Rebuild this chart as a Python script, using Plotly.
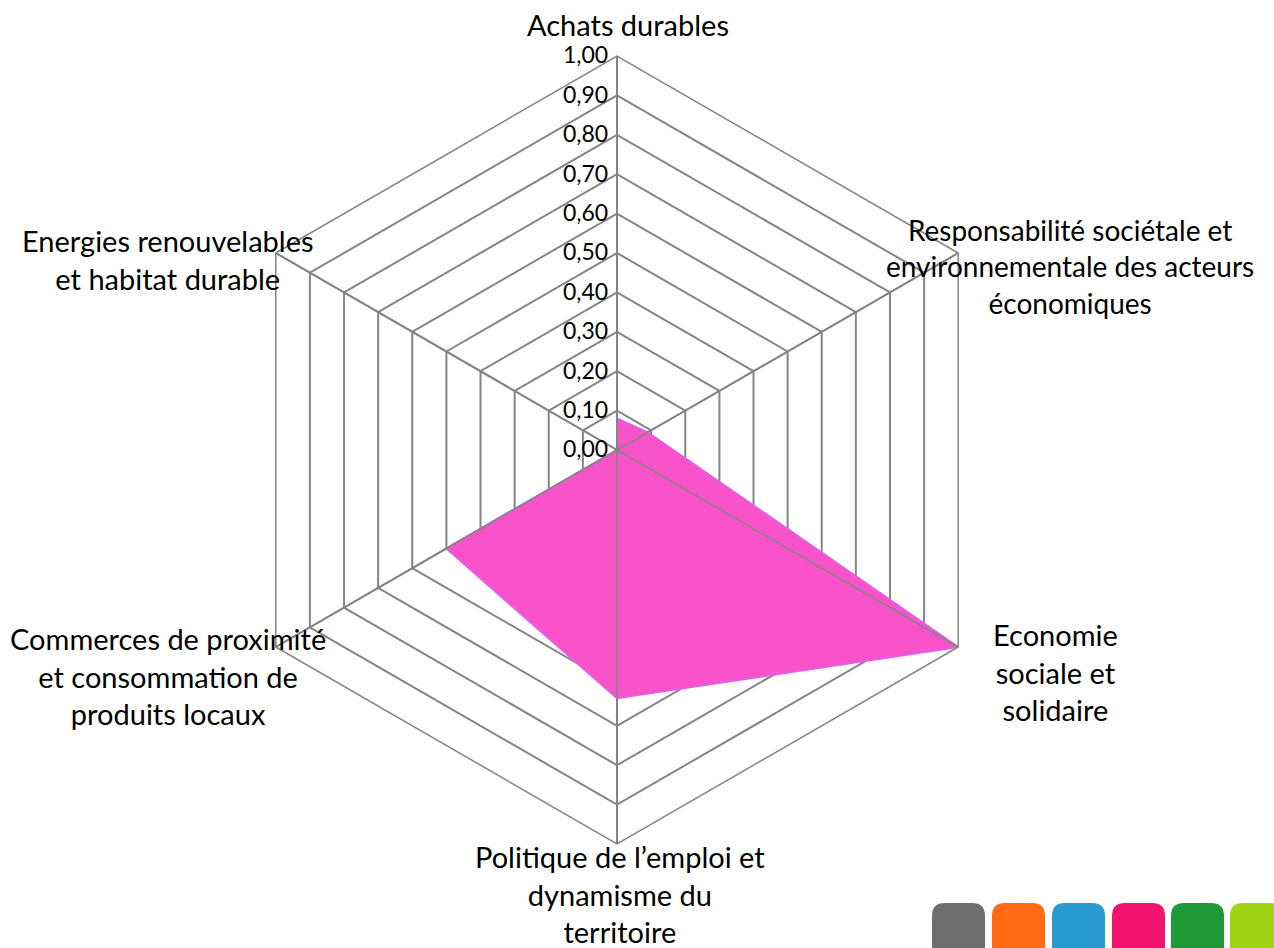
import plotly.graph_objects as go

categories = [
    "Achats durables",
    "Responsabilité sociétale et environnementale des acteurs économiques",
    "Economie sociale et solidaire",
    "Politique de l’emploi et dynamisme du territoire",
    "Commerces de proximité et consommation de produits locaux",
    "Energies renouvelables et habitat durable",
]
label_lines = [
    "Achats durables",
    "Responsabilité sociétale et<br>environnementale des acteurs<br>économiques",
    "Economie<br>sociale et<br>solidaire",
    "Politique de l’emploi et<br>dynamisme du<br>territoire",
    "Commerces de proximité<br>et consommation de<br>produits locaux",
    "Energies renouvelables<br>et habitat durable",
]
values = [0.08, 0.09, 1.00, 0.63, 0.50, 0.00]
tick_vals = [0.0, 0.1, 0.2, 0.3, 0.4, 0.5, 0.6, 0.7, 0.8, 0.9, 1.0]
tick_text = ["0,00", "0,10", "0,20", "0,30", "0,40", "0,50", "0,60", "0,70", "0,80", "0,90", "1,00"]

W, H = 1274, 948
FONT = "Lato"
GRID = "#858585"

fig = go.Figure()
fig.add_trace(go.Scatterpolar(
    r=values + [values[0]], theta=categories + [categories[0]],
    mode="lines", fill="toself",
    fillcolor="rgb(250,82,200)",
    line=dict(color="rgb(225,95,230)", width=2),
    hoverinfo="skip", showlegend=False,
))
# spokes drawn on top of the fill (as in the reference)
for c in categories:
    fig.add_trace(go.Scatterpolar(
        r=[0, 1], theta=[c, c], mode="lines",
        line=dict(color=GRID, width=1.5), hoverinfo="skip", showlegend=False,
    ))

cx, cy, R = 617, 450, 394
fig.update_layout(
    width=W, height=H,
    margin=dict(l=0, r=0, t=0, b=0),
    paper_bgcolor="white", plot_bgcolor="white",
    font=dict(family=FONT, color="black"),
    polar=dict(
        domain=dict(x=[(cx - R) / W, (cx + R) / W], y=[1 - (cy + R) / H, 1 - (cy - R) / H]),
        bgcolor="white",
        gridshape="linear",
        angularaxis=dict(
            direction="clockwise", rotation=90,
            showticklabels=False, ticks="",
            showline=True, linecolor=GRID, linewidth=1.5,
            showgrid=True, gridcolor=GRID, gridwidth=1.5,
        ),
        radialaxis=dict(
            range=[0, 1], angle=90, side="counterclockwise",
            tickvals=tick_vals, ticktext=tick_text, tickangle=90,
            tickfont=dict(family=FONT, size=23, color="black"),
            showline=True, linecolor=GRID, linewidth=1.5,
            showgrid=True, gridcolor=GRID, gridwidth=1.5,
            ticks="",
        ),
    ),
)

label_pos = [(628, 25), (1070, 266), (1055, 672), (620, 894), (168, 676), (168, 259)]
label_size = [29, 28, 29, 29, 29, 29]
for txt, (px_, py_), sz in zip(label_lines, label_pos, label_size):
    fig.add_annotation(
        x=px_ / W, y=1 - py_ / H, xref="paper", yref="paper",
        text=txt, showarrow=False, xanchor="center", yanchor="middle",
        align="center", font=dict(family=FONT, size=sz, color="black"),
    )

# decorative rounded squares (bottom right)
sq_colors = ["#6E6E6E", "#FF6A13", "#2A9BD0", "#F0146E", "#1E9A3A", "#9ED414"]
x0s = [932, 992, 1052, 1112, 1171, 1230]


def px(v):
    return v / W


def py(v):
    return 1 - v / H


for col, x0 in zip(sq_colors, x0s):
    x1 = x0 + 53
    y0, y1, rr = 903, 960, 13
    path = (f"M {px(x0)},{py(y1)} L {px(x0)},{py(y0 + rr)} "
            f"Q {px(x0)},{py(y0)} {px(x0 + rr)},{py(y0)} "
            f"L {px(x1 - rr)},{py(y0)} Q {px(x1)},{py(y0)} {px(x1)},{py(y0 + rr)} "
            f"L {px(x1)},{py(y1)} Z")
    fig.add_shape(type="path", path=path, xref="paper", yref="paper",
                  fillcolor=col, line=dict(width=0), layer="above")

fig.write_html("out.html", config={"displayModeBar": False},
               post_script="document.body.style.margin='0';document.body.style.overflow='hidden';")
